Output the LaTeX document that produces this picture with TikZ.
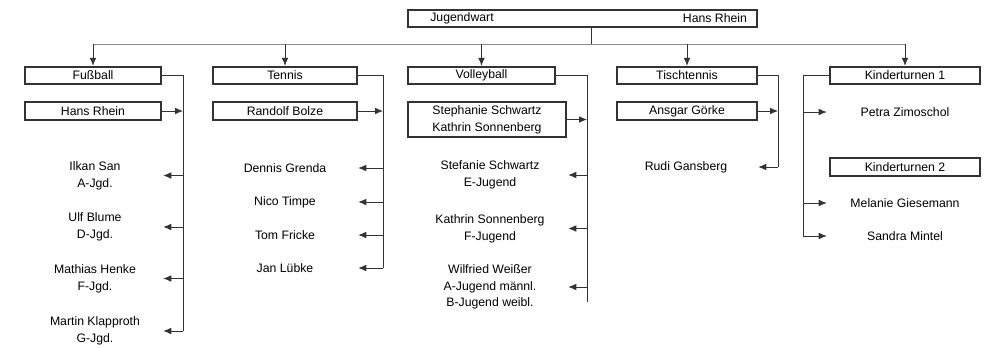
\documentclass[tikz,border=0pt]{standalone}
\usepackage{fontspec}
\setmainfont{Liberation Sans}
\usetikzlibrary{arrows.meta}
\begin{document}
\begin{tikzpicture}[x=0.75pt,y=-0.75pt,
							font=\fontsize{9.2}{12.5}\selectfont,
							box/.style={draw=black!80, line width=1.5pt, fill=white, minimum height=13pt, inner sep=1pt},
							person/.style={align=center, minimum width=#1, inner sep=0pt},
							conn/.style={draw=black!80, line width=0.6pt, -{Latex[length=6pt,width=5pt]}},
							line/.style={draw=black!80, line width=0.6pt},
							]
							\useasboundingbox (0,0) rectangle (987,347);
							%Nodes
							\node[box, minimum width=262pt, minimum height=12.75pt] (top) at (582.5,18.5) {};
							\node           (wart) 	at	(462,18.5) 		{Jugendwart};
							\node           (leiter) 	at	(715,18.5) 		{Hans Rhein};
							
							\node[box, minimum width=102pt]      (fussball) 	at 	(93,75.5)           {Fußball};
							\node[box, minimum width=102pt]      (rhein) 	at 	(93,111)           {Hans Rhein};
							\node[person=102pt]      (ilkan) 	at 	(95,175.5)           {Ilkan San\\A-Jgd.};
							\node[person=102pt]      (ulf) 	at 	(95,227)           {Ulf Blume\\D-Jgd.};
							\node[person=102pt]      (mathias) 	at 	(95,278.5)           {Mathias Henke\\F-Jgd.};
							\node[person=102pt]      (martin) 	at 	(95,331)           {Martin Klapproth\\G-Jgd.};
							
							\node[box, minimum width=108pt]      (tennis) 	at 	(285,75.5)           {Tennis};
							\node[box, minimum width=108pt]      (randolf) 	at 	(285,111)           {Randolf Bolze};
							\node[person=109.5pt]      (dennis) 	at 	(285,168)           {Dennis Grenda};
							\node[person=109.5pt]      (nico) 	at 	(285,202)           {Nico Timpe};
							\node[person=109.5pt]      (tom) 	at 	(285,235)           {Tom Fricke};
							\node[person=109.5pt]      (jan) 	at 	(285,268)           {Jan Lübke};
							
							\node[box, minimum width=110pt]      (volley) 	at 	(481.5,75.5)           {Volleyball};
							\node[box, minimum width=118.5pt, minimum height=26pt, align=center]      (stephanie) 	at 	(487,119.5)           {Stephanie Schwartz\\Kathrin Sonnenberg};
							\node[person=117pt]      (stefanie) 	at 	(490,175)           {Stefanie Schwartz\\E-Jugend};
							\node[person=117pt]      (kathrin) 	at 	(490,228.5)           {Kathrin Sonnenberg\\F-Jugend};
							\node[person=117pt]      (wilfried) 	at 	(490,287)           {Wilfried Weißer\\A-Jugend männl.\\B-Jugend weibl.};
							
							\node[box, minimum width=105pt]      (tischtennis) 	at 	(687,75.5)           {Tischtennis};
							\node[box, minimum width=105pt]      (ansgar) 	at 	(687,111)           {Ansgar Görke};
							\node[person=108pt]      (rudi) 	at 	(686,167)           {Rudi Gansberg};
							
							\node[box, minimum width=112.5pt]      (kinder1) 	at 	(905,75.5)           {Kinderturnen 1};
							\node[person=117pt]      (petra) 	at 	(905,112)           {Petra Zimoschol};
							\node[box, minimum width=112.5pt]      (kinder2) 	at 	(905,167)           {Kinderturnen 2};
							\node[person=117pt]      (melanie) 	at 	(905,203)           {Melanie Giesemann};
							\node[person=117pt]      (sandra) 	at 	(905,236)           {Sandra Mintel};
							
							%Bus and bars
							\coordinate (hub) at (591,44);
							\coordinate (b1) at (183,331);
							\coordinate (b2) at (383,268);
							\coordinate (b3) at (587,302);
							\coordinate (b4) at (778,167);
							\coordinate (b5) at (803,236);
							
							\draw[line] (top.south -| hub) -- (hub);
							\draw[line, draw=black!45] (fussball.north |- hub) -- (kinder1.north |- hub);
							\draw[conn] (fussball.north |- hub) -- (fussball.north);
							\draw[conn] (tennis.north |- hub) -- (tennis.north);
							\draw[conn] (volley.north |- hub) -- (volley.north);
							\draw[conn] (tischtennis.north |- hub) -- (tischtennis.north);
							\draw[conn] (kinder1.north |- hub) -- (kinder1.north);
							
							\draw[line] (fussball.east) -| (b1);
							\draw[conn] (rhein.east) -- (rhein.east -| b1);
							\draw[conn] (b1 |- ilkan) -- (ilkan.east);
							\draw[conn] (b1 |- ulf) -- (ulf.east);
							\draw[conn] (b1 |- mathias) -- (mathias.east);
							\draw[conn] (b1 |- martin) -- (martin.east);
							
							\draw[line] (tennis.east) -| (b2);
							\draw[conn] (randolf.east) -- (randolf.east -| b2);
							\draw[conn] (b2 |- dennis) -- (dennis.east);
							\draw[conn] (b2 |- nico) -- (nico.east);
							\draw[conn] (b2 |- tom) -- (tom.east);
							\draw[conn] (b2 |- jan) -- (jan.east);
							
							\draw[line] (volley.east) -| (b3);
							\draw[conn] (stephanie.east) -- (stephanie.east -| b3);
							\draw[conn] (b3 |- stefanie) -- (stefanie.east);
							\draw[conn] (b3 |- kathrin) -- (kathrin.east);
							\draw[conn] (b3 |- wilfried) -- (wilfried.east);
							
							\draw[line] (tischtennis.east) -| (b4);
							\draw[conn] (ansgar.east) -- (ansgar.east -| b4);
							\draw[conn] (b4 |- rudi) -- (rudi.east);
							
							\draw[line] (kinder1.west) -| (b5);
							\draw[conn] (b5 |- petra) -- (petra.west);
							\draw[conn] (b5 |- melanie) -- (melanie.west);
							\draw[conn] (b5 |- sandra) -- (sandra.west);
						\end{tikzpicture}
\end{document}
